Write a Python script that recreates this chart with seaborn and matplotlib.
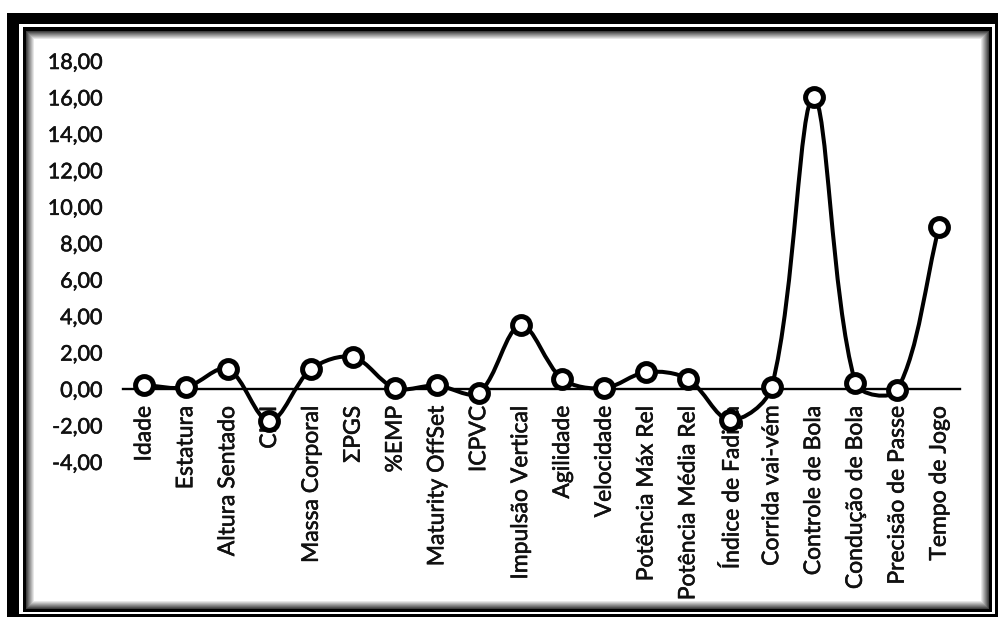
import numpy as np
import pandas as pd
import matplotlib
matplotlib.use("Agg")
import matplotlib.pyplot as plt
import matplotlib.patheffects as pe
from matplotlib.patches import Rectangle, PathPatch
from matplotlib.path import Path
import seaborn as sns

categories = ["Idade", "Estatura", "Altura Sentado", "CMI", "Massa Corporal", "ΣPGS",
              "%EMP", "Maturity OffSet", "ICPVC", "Impulsão Vertical", "Agilidade",
              "Velocidade", "Potência Máx Rel", "Potência Média Rel", "Índice de Fadiga",
              "Corrida vai-vém", "Controle de Bola", "Condução de Bola",
              "Precisão de Passe", "Tempo de Jogo"]
values = [0.22, 0.10, 1.10, -1.75, 1.10, 1.75, 0.05, 0.20, -0.20, 3.50, 0.55,
          0.05, 0.93, 0.55, -1.70, 0.10, 16.00, 0.33, -0.05, 8.90]
yticks = [-4, -2, 0, 2, 4, 6, 8, 10, 12, 14, 16, 18]

sns.set_theme(style="white")
plt.rcParams['font.family'] = ['Lato', 'DejaVu Sans']

W, H = 998, 619
fig = plt.figure(figsize=(W / 100, H / 100), dpi=100)
fig.patch.set_facecolor("white")

# background frame axes in pixel coordinates
bg = fig.add_axes([0, 0, 1, 1])
bg.set_xlim(0, W)
bg.set_ylim(H, 0)
bg.axis("off")

def rect(x0, y0, x1, y1, color):
    bg.add_patch(Rectangle((x0, y0), x1 - x0, y1 - y0, facecolor=color, edgecolor="none"))

rect(7, 13, 998, 617, "black")
rect(19, 24, 995, 614, "white")
rect(23, 27, 992, 612, "black")
n_g = 9
for i in range(n_g):
    g = 0.15 + 0.85 * (i + 1) / n_g
    ins = 3 + i
    rect(23 + ins, 27 + ins + 1, 992 - ins, 612 - ins, (g, g, g))
rect(23 + 3 + n_g, 27 + 4 + n_g, 992 - 3 - n_g, 612 - 3 - n_g, "white")

# main axes
ax = fig.add_axes([123 / W, 1 - 462 / H, (960 - 123) / W, (462 - 61) / H])
ax.set_facecolor("none")
ax.set_xlim(-0.5, len(categories) - 0.5)
ax.set_ylim(-4, 18)
for s in ["top", "right", "left"]:
    ax.spines[s].set_visible(False)
ax.spines["bottom"].set_position(("data", 0))
ax.spines["bottom"].set_color("black")
ax.spines["bottom"].set_linewidth(1.7)
ax.spines["bottom"].set_zorder(2)

df = pd.DataFrame({"x": np.arange(len(categories)), "y": values, "cat": categories})

# smoothed line (Excel-like Bezier through the data points, chord-weighted tangents)
pts = df[["x", "y"]].to_numpy(dtype=float)
sx, sy = 41.85, 18.23  # pixel scale for chord lengths
n = len(pts)

def seglen(a, b):
    return np.hypot((b[0] - a[0]) * sx, (b[1] - a[1]) * sy)

out_c, in_c = [], []
for i in range(n):
    pp = pts[i - 1] if i > 0 else pts[i]
    pn = pts[i + 1] if i < n - 1 else pts[i]
    lp = seglen(pp, pts[i])
    ln = seglen(pts[i], pn)
    tot = lp + ln if lp + ln > 0 else 1.0
    d = pn - pp
    out_c.append(pts[i] + d * (1.0 / 3.0) * ln / tot)
    in_c.append(pts[i] - d * (1.0 / 3.0) * lp / tot)

verts = [tuple(pts[0])]
codes = [Path.MOVETO]
for i in range(n - 1):
    verts += [tuple(out_c[i]), tuple(in_c[i + 1]), tuple(pts[i + 1])]
    codes += [Path.CURVE4] * 3
ax.add_patch(PathPatch(Path(verts, codes), facecolor="none", edgecolor="black",
                       linewidth=2.9, zorder=3, capstyle="round", joinstyle="round"))

sns.scatterplot(data=df, x="x", y="y", ax=ax, s=165, marker="o",
                facecolor="white", edgecolor="black", linewidth=3.6, zorder=4, legend=False)

ax.set_xlim(-0.5, len(categories) - 0.5)
ax.set_ylim(-4, 18)
ax.set_yticks(yticks)
ax.set_yticklabels([f"{v:.2f}".replace(".", ",") for v in yticks], fontsize=15.5, color="#111111")
ax.set_xticks(df["x"])
ax.set_xticklabels(categories, rotation=90, fontsize=16.5, color="#111111", va="top", ha="center")
for lab in ax.get_xticklabels() + ax.get_yticklabels():
    lab.set_path_effects([pe.withStroke(linewidth=0.4, foreground="#111111")])
ax.set_xlabel("")
ax.set_ylabel("")
ax.tick_params(axis="x", length=0, pad=12)
ax.tick_params(axis="y", length=0, pad=15)
ax.grid(False)

fig.savefig("out.png", dpi=100)
